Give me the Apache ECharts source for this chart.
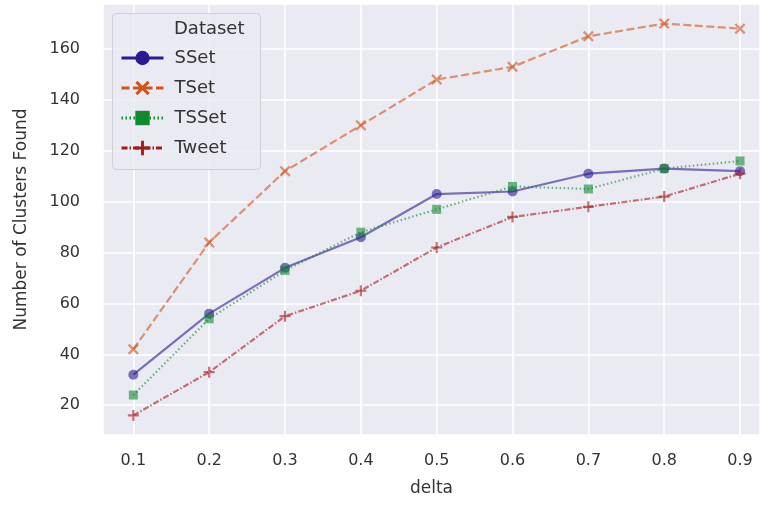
<!DOCTYPE html>
<html><head><meta charset="utf-8">
<script src="https://cdn.jsdelivr.net/npm/echarts@6/dist/echarts.min.js"></script>
<style>html,body{margin:0;padding:0;background:#fff}#c{width:760px;height:506px}</style>
</head><body><div id="c"></div>
<script>
const deltas = [0.1,0.2,0.3,0.4,0.5,0.6,0.7,0.8,0.9];
const sset  = [32,56,74,86,103,104,111,113,112];
const tset  = [42,84,112,130,148,153,165,170,168];
const tsset = [24,54,73,88,97,106,105,113,116];
const tweet = [16,33,55,65,82,94,98,102,111];
const seriesNames = ['SSet','TSet','TSSet','Tweet'];
const yTicks = [20,40,60,80,100,120,140,160];

const FONT = 'DejaVu Sans';
const colors = ['#2c1a94','#d0541c','#11892f','#a51b1b'];
const xMid = 'path://M0,1.5 L1.5,0 L5,3.5 L8.5,0 L10,1.5 L6.5,5 L10,8.5 L8.5,10 L5,6.5 L1.5,10 L0,8.5 L3.5,5 Z';
const plusMid = 'path://M4,0 L6,0 L6,4 L10,4 L10,6 L6,6 L6,10 L4,10 L4,6 L0,6 L0,4 L4,4 Z';

const datas = [sset,tset,tsset,tweet];
const symbols = ['circle', xMid, 'rect', plusMid];
const dashes = ['solid',[8,3.5],[1.5,2.5],[6,2,1.5,2]];
const sizes = [10,11,9,11];

const series = seriesNames.map((n,i)=>({
  name:n, type:'line',
  data: deltas.map((d,j)=>[d,datas[i][j]]),
  symbol: symbols[i], symbolSize: sizes[i], showSymbol:true,
  lineStyle:{color:colors[i], width:2.2, type:dashes[i], opacity:0.6},
  itemStyle:{color:colors[i], opacity:0.6, borderWidth:0},
  emphasis:{disabled:true},
  z: 3+i
}));

const chart = echarts.init(document.getElementById('c'), null, {renderer:'canvas'});
chart.setOption({
  animation:false,
  backgroundColor:'#ffffff',
  textStyle:{fontFamily:FONT},
  grid:{left:103, right:0, top:4, bottom:71, show:true, backgroundColor:'#eaeaf2', borderWidth:0},
  xAxis:{
    type:'value', min:0.06, max:0.9263, splitNumber:9, minInterval:0.1, maxInterval:0.1,
    axisLine:{show:false}, axisTick:{show:false},
    splitLine:{show:true, lineStyle:{color:'#ffffff', width:1.5}},
    axisLabel:{fontFamily:FONT, fontSize:16, color:'#333333', margin:18, showMinLabel:false, showMaxLabel:false,
      formatter:v=>{const r=Math.round(v*10); return Math.abs(v*10-r)<1e-6 && deltas.indexOf(r/10)>=0 ? (r/10).toFixed(1) : '';}},
    name:'delta', nameLocation:'middle', nameGap:45,
    nameTextStyle:{fontFamily:FONT, fontSize:17, color:'#333333'}
  },
  yAxis:{
    type:'value', min:8.3, max:177.7, splitNumber:8, minInterval:20, maxInterval:20,
    axisLine:{show:false}, axisTick:{show:false},
    splitLine:{show:true, lineStyle:{color:'#ffffff', width:1.5}},
    axisLabel:{fontFamily:FONT, fontSize:16, color:'#333333', margin:23, showMinLabel:false, showMaxLabel:false,
      formatter:v=> yTicks.indexOf(Math.round(v))>=0 && Math.abs(v-Math.round(v))<1e-6 ? String(Math.round(v)) : ''},
    name:'Number of Clusters Found', nameLocation:'middle', nameGap:73,
    nameTextStyle:{fontFamily:FONT, fontSize:17, color:'#333333'}
  },
  graphic:[
    {type:'rect', shape:{x:112.5, y:13.5, width:148, height:156, r:4}, z:3,
      style:{fill:'rgba(234,234,242,0.85)', stroke:'#cfcfd6', lineWidth:1}},
    {type:'text', left:174, top:20, z:6, style:{text:'Dataset', fontFamily:FONT, fontSize:18, fill:'#333333'}}
  ],
  legend:{
    show:true, orient:'vertical', left:115, top:44, itemGap:12, itemWidth:42, itemHeight:18,
    z:6,
    data: seriesNames.map((n,i)=>({name:n,
      itemStyle:{color:colors[i], opacity:1}, lineStyle:{color:colors[i], opacity:1, width:3, type:dashes[i]}})),
    textStyle:{fontFamily:FONT, fontSize:18, color:'#333333', padding:[0,0,0,6]},
    selectedMode:false
  },
  series: series
});
</script></body></html>
